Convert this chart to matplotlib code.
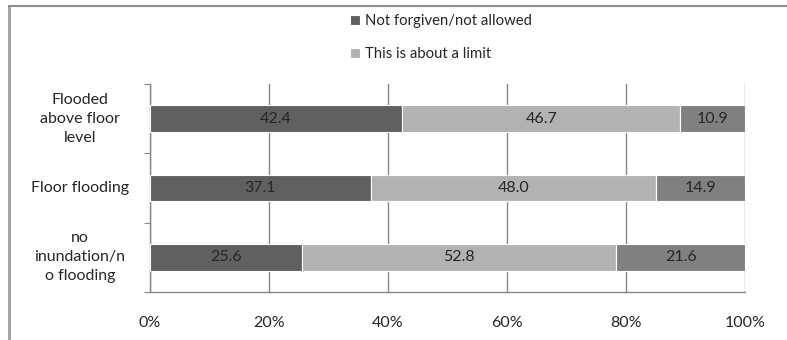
import matplotlib
matplotlib.use("Agg")
import matplotlib.pyplot as plt
from matplotlib.lines import Line2D
import numpy as np

plt.rcParams['font.family'] = ['Lato', 'DejaVu Sans']

categories = ["Flooded\nabove floor\nlevel", "Floor flooding", "no\ninundation/n\no flooding"]
not_allowed = [42.4, 37.1, 25.6]
about_limit = [46.7, 48.0, 52.8]
remainder = [10.9, 14.9, 21.6]
series_names = ["Not forgiven/not allowed", "This is about a limit", ""]
colors = ["#606060", "#b2b2b2", "#808080"]
xticks = [0, 20, 40, 60, 80, 100]

fig = plt.figure(figsize=(7.87, 3.4), dpi=100)
ax = fig.add_axes([150 / 787, 1 - 292 / 340, 595 / 787, 208 / 340])

ypos = np.arange(len(categories))[::-1]
left = np.zeros(len(categories))
handles = []
for vals, col, name in zip([not_allowed, about_limit, remainder], colors, series_names):
    vals = np.array(vals)
    b = ax.barh(ypos, vals, left=left, height=0.38, color=col,
                edgecolor="white", linewidth=0.8, zorder=3, label=name)
    handles.append(b)
    for y, l, v in zip(ypos, left, vals):
        ax.text(l + v / 2, y, f"{v:.1f}", ha="center", va="center",
                fontsize=11.5, color="#262626", zorder=4)
    left = left + vals

ax.set_xlim(0, 100)
ax.set_ylim(-0.5, len(categories) - 0.5)
ax.set_xticks(xticks)
ax.set_xticklabels([f"{t}%" for t in xticks], fontsize=11.5, color="#262626")
ax.tick_params(axis="x", length=0, pad=17)
ax.set_yticks(np.arange(-0.5, len(categories), 1.0))
ax.set_yticklabels([])
ax.tick_params(axis="y", length=4, color="#888888", direction="out")
ax.grid(axis="x", color="#888888", linewidth=1, zorder=0)
for s in ["top", "right"]:
    ax.spines[s].set_visible(False)
for s in ["left", "bottom"]:
    ax.spines[s].set_color("#888888")
    ax.spines[s].set_linewidth(1)

for y, lab in zip(ypos, categories):
    ax.text(-0.118, y, lab, transform=ax.get_yaxis_transform(), ha="center",
            va="center", multialignment="center", fontsize=11.5,
            color="#262626", linespacing=1.45)

fig.legend(handles[:2], series_names[:2], loc="upper left",
           bbox_to_anchor=(337 / 787, 1 - 1 / 340), frameon=False,
           fontsize=10.7, handlelength=0.65, handleheight=0.65,
           handletextpad=0.35, labelspacing=1.25, labelcolor="#262626")

# outer border of the chart area
fig.add_artist(Line2D([8.5 / 787, 8.5 / 787], [0, 1 - 6 / 340],
                      transform=fig.transFigure, color="#a0a0a0", linewidth=2))
fig.add_artist(Line2D([8.5 / 787, 1], [1 - 6 / 340, 1 - 6 / 340],
                      transform=fig.transFigure, color="#909090", linewidth=1.5))

fig.savefig("out.png", dpi=100)
